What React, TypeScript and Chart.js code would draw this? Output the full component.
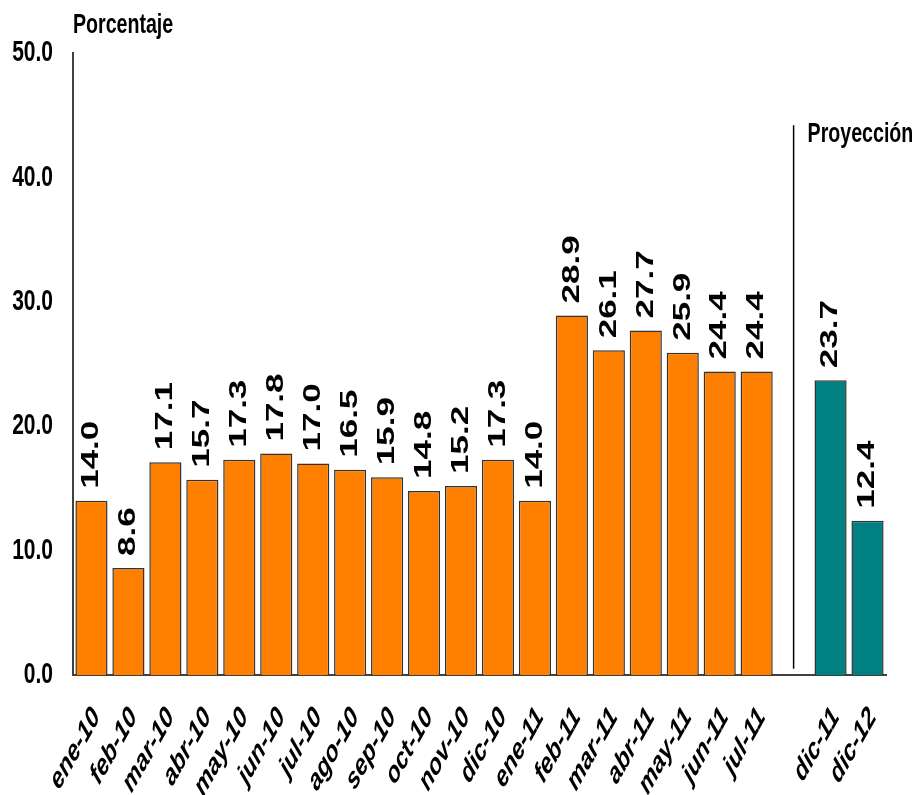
import React, { useEffect, useRef } from "react";
import { Chart, registerables } from "chart.js";

Chart.register(...registerables);

const categories = [
  "ene-10", "feb-10", "mar-10", "abr-10", "may-10", "jun-10", "jul-10", "ago-10",
  "sep-10", "oct-10", "nov-10", "dic-10", "ene-11", "feb-11", "mar-11", "abr-11",
  "may-11", "jun-11", "jul-11", "", "dic-11", "dic-12",
];
const observedValues = [
  14.0, 8.6, 17.1, 15.7, 17.3, 17.8, 17.0, 16.5, 15.9, 14.8, 15.2, 17.3, 14.0,
  28.9, 26.1, 27.7, 25.9, 24.4, 24.4,
];
const projectedValues = [23.7, 12.4];
const yTicks = [0, 10, 20, 30, 40, 50];
const separatorIndex = 19;
const separatorTop = 44.2;
const axisTitle = "Porcentaje";
const projectionTitle = "Proyección";

const ORANGE = "#FF8000";
const TEAL = "#008080";
const FONT = '"Liberation Sans", Arial, sans-serif';
const SX = 0.7;

const allValues: (number | null)[] = [...observedValues, null, ...projectedValues];
const barColors = allValues.map((_, i) => (i > separatorIndex ? TEAL : ORANGE));

function drawText(
  ctx: CanvasRenderingContext2D,
  text: string,
  x: number,
  y: number,
  font: string,
  align: CanvasTextAlign,
  baseline: CanvasTextBaseline,
  angle = 0
) {
  ctx.save();
  ctx.translate(x, y);
  ctx.scale(SX, 1);
  ctx.rotate(angle);
  ctx.font = font;
  ctx.textAlign = align;
  ctx.textBaseline = baseline;
  ctx.fillStyle = "#000";
  ctx.fillText(text, 0, 0);
  ctx.restore();
}

const textPlugin = {
  id: "customText",
  afterDraw(chart: any) {
    const ctx = chart.ctx as CanvasRenderingContext2D;
    const xs = chart.scales.x;
    const ys = chart.scales.y;
    const area = chart.chartArea;

    yTicks.forEach((v) => {
      drawText(ctx, v.toFixed(1), area.left - 20, ys.getPixelForValue(v), `bold 30px ${FONT}`, "right", "middle");
    });

    drawText(ctx, axisTitle, area.left, ys.getPixelForValue(50) - 28, `bold 28px ${FONT}`, "left", "middle");

    categories.forEach((c, i) => {
      if (!c) return;
      const x = xs.getPixelForValue(i);
      drawText(ctx, c, x + 5, area.bottom + 37, `italic bold 30px ${FONT}`, "right", "middle", (-51 * Math.PI) / 180);
    });

    const meta = chart.getDatasetMeta(0);
    allValues.forEach((v, i) => {
      if (v == null) return;
      const el = meta.data[i];
      drawText(ctx, v.toFixed(1), el.x, el.y - 12, `bold 35px ${FONT}`, "left", "middle", -Math.PI / 2);
    });

    const sx = xs.getPixelForValue(separatorIndex);
    ctx.save();
    ctx.strokeStyle = "#000";
    ctx.lineWidth = 1.5;
    ctx.beginPath();
    ctx.moveTo(sx, ys.getPixelForValue(separatorTop));
    ctx.lineTo(sx, ys.getPixelForValue(0.5));
    ctx.stroke();
    ctx.restore();

    drawText(ctx, projectionTitle, sx + 14, ys.getPixelForValue(separatorTop) + 9, `bold 28px ${FONT}`, "left", "middle");
  },
};

export default function App() {
  const ref = useRef<HTMLCanvasElement | null>(null);
  useEffect(() => {
    if (!ref.current) return;
    const chart = new Chart(ref.current, {
      type: "bar",
      data: {
        labels: categories,
        datasets: [
          {
            data: allValues,
            backgroundColor: barColors,
            borderColor: "#333333",
            borderWidth: 1.5,
            barPercentage: 0.87,
            categoryPercentage: 1,
          },
        ],
      },
      options: {
        responsive: false,
        animation: false,
        layout: { padding: { left: 65, right: 31, top: 53, bottom: 112 } },
        plugins: { legend: { display: false }, tooltip: { enabled: false } },
        scales: {
          x: {
            offset: true,
            grid: { display: false },
            ticks: { display: false },
            border: { display: true, color: "#404040", width: 2 },
          },
          y: {
            min: 0,
            max: 50,
            grid: { display: false },
            ticks: { display: false, stepSize: 10 },
            border: { display: true, color: "#404040", width: 2 },
          },
        },
      },
      plugins: [textPlugin],
    });
    return () => chart.destroy();
  }, []);
  return (
    <div style={{ position: "absolute", left: 0, top: 0, width: 917, height: 795, background: "#fff" }}>
      <canvas ref={ref} width={917} height={795} style={{ display: "block" }} />
    </div>
  );
}
